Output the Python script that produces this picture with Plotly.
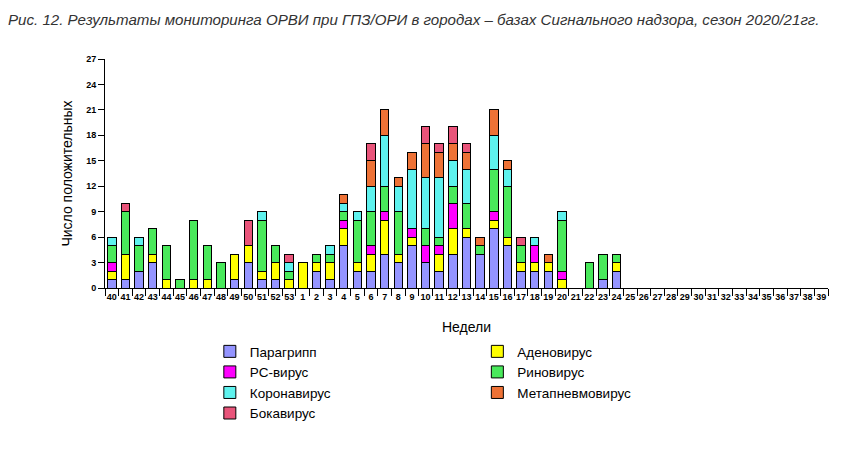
# Мониторинг ОРВИ, сезон 2020/21 - столбцы с накоплением по неделям
import plotly.graph_objects as go

weeks = [str(w) for w in range(40, 54)] + [str(w) for w in range(1, 40)]

# значения по неделям 40..53, 1..39
paragripp = [1, 1, 2, 3, 0, 0, 0, 0, 0, 1, 3, 1, 1, 0,
             0, 2, 1, 5, 2, 2, 4, 3, 5, 3, 2, 4, 6, 4, 7, 5, 2, 2, 2, 0, 0, 0, 1, 2,
             0, 0, 0, 0, 0, 0, 0, 0, 0, 0, 0, 0, 0, 0, 0]
adeno = [1, 3, 0, 1, 1, 0, 1, 1, 0, 3, 2, 1, 2, 1,
         3, 1, 2, 2, 1, 2, 4, 1, 1, 0, 2, 3, 1, 0, 1, 1, 1, 1, 1, 1, 0, 0, 0, 1,
         0, 0, 0, 0, 0, 0, 0, 0, 0, 0, 0, 0, 0, 0, 0]
rs = [1, 0, 0, 0, 0, 0, 0, 0, 0, 0, 0, 0, 0, 0,
      0, 0, 0, 1, 0, 1, 1, 0, 1, 2, 1, 3, 0, 0, 1, 0, 0, 2, 0, 1, 0, 0, 0, 0,
      0, 0, 0, 0, 0, 0, 0, 0, 0, 0, 0, 0, 0, 0, 0]
rino = [2, 5, 3, 3, 4, 1, 7, 4, 3, 0, 0, 6, 2, 1,
        0, 1, 1, 1, 5, 4, 3, 5, 0, 2, 1, 2, 3, 1, 5, 6, 2, 0, 0, 6, 0, 3, 3, 1,
        0, 0, 0, 0, 0, 0, 0, 0, 0, 0, 0, 0, 0, 0, 0]
corona = [1, 0, 1, 0, 0, 0, 0, 0, 0, 0, 0, 1, 0, 1,
          0, 0, 1, 1, 1, 3, 6, 3, 7, 6, 7, 3, 4, 0, 4, 2, 0, 1, 0, 1, 0, 0, 0, 0,
          0, 0, 0, 0, 0, 0, 0, 0, 0, 0, 0, 0, 0, 0, 0]
metapn = [0, 0, 0, 0, 0, 0, 0, 0, 0, 0, 0, 0, 0, 0,
          0, 0, 0, 1, 0, 3, 3, 1, 2, 4, 3, 2, 2, 1, 3, 1, 0, 0, 1, 0, 0, 0, 0, 0,
          0, 0, 0, 0, 0, 0, 0, 0, 0, 0, 0, 0, 0, 0, 0]
boka = [0, 1, 0, 0, 0, 0, 0, 0, 0, 0, 3, 0, 0, 1,
        0, 0, 0, 0, 0, 2, 0, 0, 0, 2, 1, 2, 1, 0, 0, 0, 1, 0, 0, 0, 0, 0, 0, 0,
        0, 0, 0, 0, 0, 0, 0, 0, 0, 0, 0, 0, 0, 0, 0]

y_ticks = [0, 3, 6, 9, 12, 15, 18, 21, 24, 27]

# порядок в стопке снизу вверх
series = [
    ("Парагрипп", paragripp, "#9494FF", "legend"),
    ("Аденовирус", adeno, "#FFFF00", "legend2"),
    ("РС-вирус", rs, "#FF00FF", "legend"),
    ("Риновирус", rino, "#49E95B", "legend2"),
    ("Коронавирус", corona, "#5EF2EE", "legend"),
    ("Метапневмовирус", metapn, "#EE7236", "legend2"),
    ("Бокавирус", boka, "#E9547A", "legend"),
]
rank = {"Парагрипп": 1, "РС-вирус": 2, "Коронавирус": 3, "Бокавирус": 4,
        "Аденовирус": 1, "Риновирус": 2, "Метапневмовирус": 3}

fig = go.Figure()
for name, vals, col, leg in series:
    fig.add_trace(go.Bar(
        x=weeks, y=vals, name=name, legend=leg, legendrank=rank[name],
        marker=dict(color=col, line=dict(color="black", width=1))))

tick_font = dict(family="Arial, Liberation Sans", size=9, color="black", weight="bold")
leg_font = dict(family="Arial, Liberation Sans", size=13.5, color="black")

fig.update_layout(
    width=868, height=457,
    barmode="stack", bargap=0.38,
    paper_bgcolor="white", plot_bgcolor="white",
    margin=dict(l=97, r=48, t=51, b=177),
    title=dict(text="Рис. 12. Результаты мониторинга ОРВИ при ГПЗ/ОРИ в городах – базах Сигнального надзора, сезон 2020/21гг.",
               x=0.0, xanchor="left", y=0.974, yanchor="middle",
               font=dict(family="Arial, Liberation Sans", size=15.1, color="#333333", style="italic")),
    xaxis=dict(type="category", showline=True, linecolor="black", linewidth=1,
               ticks="outside", tickson="boundaries", ticklen=7, tickcolor="black",
               tickfont=tick_font, tickangle=0, showgrid=False, automargin=False,
               title=dict(text="Недели", standoff=21,
                          font=dict(family="Arial, Liberation Sans", size=14, color="black"))),
    yaxis=dict(range=[0, 27], tickvals=y_ticks, showline=True, linecolor="black", linewidth=1,
               ticks="outside", ticklen=6, tickcolor="black", tickfont=tick_font,
               showgrid=False, zeroline=False, automargin=False,
               title=dict(text="Число положительных", standoff=10,
                          font=dict(family="Arial, Liberation Sans", size=14, color="black"))),
    legend=dict(x=0.145, y=-0.21, xanchor="left", yanchor="top", orientation="v",
                font=leg_font, traceorder="normal", bgcolor="rgba(0,0,0,0)"),
    legend2=dict(x=0.515, y=-0.21, xanchor="left", yanchor="top", orientation="v",
                 font=leg_font, traceorder="normal", bgcolor="rgba(0,0,0,0)"),
)

fig.write_html("out.html")
